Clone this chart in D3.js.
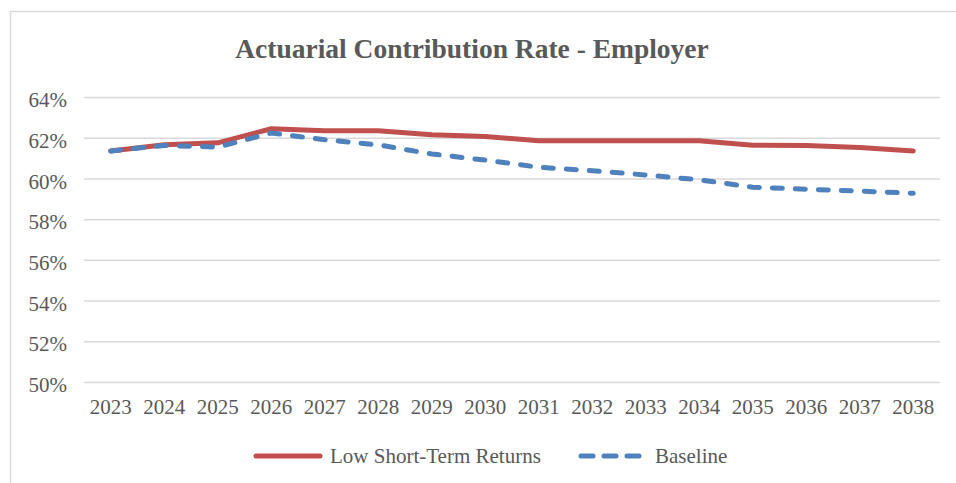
<!DOCTYPE html>
<html>
<head>
<meta charset="utf-8">
<script src="https://cdn.jsdelivr.net/npm/d3@7"></script>
<style>
	body { margin: 0; background: #fff; }
	svg { display: block; font-family: 'Liberation Serif', 'Times New Roman', serif; }
	svg text { font-family: 'Liberation Serif', 'Times New Roman', serif; }
</style>
</head>
<body>
<script>
var years = ['2023', '2024', '2025', '2026', '2027', '2028', '2029', '2030',
	'2031', '2032', '2033', '2034', '2035', '2036', '2037', '2038'];
var lowShortTerm = [61.35, 61.65, 61.75, 62.44, 62.34, 62.34, 62.14, 62.06,
	61.85, 61.85, 61.85, 61.85, 61.63, 61.62, 61.52, 61.35];
var baseline = [61.35, 61.62, 61.54, 62.23, 61.9, 61.65, 61.2, 60.9,
	60.55, 60.38, 60.17, 59.93, 59.57, 59.47, 59.38, 59.27];
var yTicks = [50, 52, 54, 56, 58, 60, 62, 64];
var seriesNames = ['Low Short-Term Returns', 'Baseline'];

var width = 956, height = 483;
var margin = { top: 97, right: 16, bottom: 101, left: 84 };
var textColor = '#595959';

var svg = d3.select('body').append('svg')
	.attr('width', width)
	.attr('height', height);

// chart border
svg.append('rect')
	.attr('x', 10.5).attr('y', 11.5)
	.attr('width', 1000).attr('height', 600)
	.attr('fill', 'none')
	.attr('stroke', '#d9d9d9')
	.attr('stroke-width', 1.5);

svg.append('text')
	.attr('x', 472)
	.attr('y', 58)
	.attr('text-anchor', 'middle')
	.attr('fill', textColor)
	.style('font-size', '27.5px')
	.style('font-weight', 'bold')
	.text('Actuarial Contribution Rate - Employer');

var x = d3.scaleBand()
	.domain(years)
	.range([margin.left, width - margin.right]);

var y = d3.scaleLinear()
	.domain([50, 64])
	.range([height - margin.bottom, margin.top]);

// gridlines
svg.append('g')
	.selectAll('line')
	.data(yTicks)
	.enter()
	.append('line')
		.attr('x1', margin.left)
		.attr('x2', width - margin.right)
		.attr('y1', function(d) { return y(d) + 0.5; })
		.attr('y2', function(d) { return y(d) + 0.5; })
		.attr('stroke', '#d9d9d9')
		.attr('stroke-width', 1.5);

var yAxis = d3.axisLeft(y)
	.tickValues(yTicks)
	.tickSize(0)
	.tickPadding(0)
	.tickFormat(function(d) { return d + '%'; });

svg.append('g')
	.attr('transform', 'translate(67,0)')
	.call(yAxis)
	.attr('font-family', null)
	.attr('font-size', null)
	.call(function(g) { g.select('.domain').remove(); })
	.selectAll('text')
		.attr('fill', textColor)
		.attr('dy', '0.46em')
		.style('font-size', '21px');

var xAxis = d3.axisBottom(x).tickSize(0).tickPadding(0);

svg.append('g')
	.attr('transform', 'translate(0,' + (y(50) + 17) + ')')
	.call(xAxis)
	.attr('font-family', null)
	.attr('font-size', null)
	.call(function(g) { g.select('.domain').remove(); })
	.selectAll('text')
		.attr('fill', textColor)
		.style('font-size', '21px');

var line = d3.line()
	.x(function(d, i) { return x(years[i]) + x.bandwidth() / 2; })
	.y(function(d) { return y(d); });

svg.append('path')
	.datum(lowShortTerm)
	.attr('d', line)
	.attr('fill', 'none')
	.attr('stroke', '#c0504d')
	.attr('stroke-width', 5)
	.attr('stroke-linecap', 'round')
	.attr('stroke-linejoin', 'round');

svg.append('path')
	.datum(baseline)
	.attr('d', line)
	.attr('fill', 'none')
	.attr('stroke', '#4f81bd')
	.attr('stroke-width', 5)
	.attr('stroke-dasharray', '10,13')
	.attr('stroke-linecap', 'round')
	.attr('stroke-linejoin', 'round');

// legend
var legend = svg.append('g').attr('class', 'legend');
legend.append('line')
	.attr('x1', 256).attr('x2', 320)
	.attr('y1', 456).attr('y2', 456)
	.attr('stroke', '#c0504d')
	.attr('stroke-width', 5)
	.attr('stroke-linecap', 'round');
legend.append('text')
	.attr('x', 330).attr('y', 463)
	.attr('fill', textColor)
	.style('font-size', '21px')
	.text(seriesNames[0]);
legend.append('line')
	.attr('x1', 581).attr('x2', 642)
	.attr('y1', 456).attr('y2', 456)
	.attr('stroke', '#4f81bd')
	.attr('stroke-width', 5)
	.attr('stroke-dasharray', '12,11')
	.attr('stroke-linecap', 'round');
legend.append('text')
	.attr('x', 655).attr('y', 463)
	.attr('fill', textColor)
	.style('font-size', '21px')
	.text(seriesNames[1]);
</script>
</body>
</html>
